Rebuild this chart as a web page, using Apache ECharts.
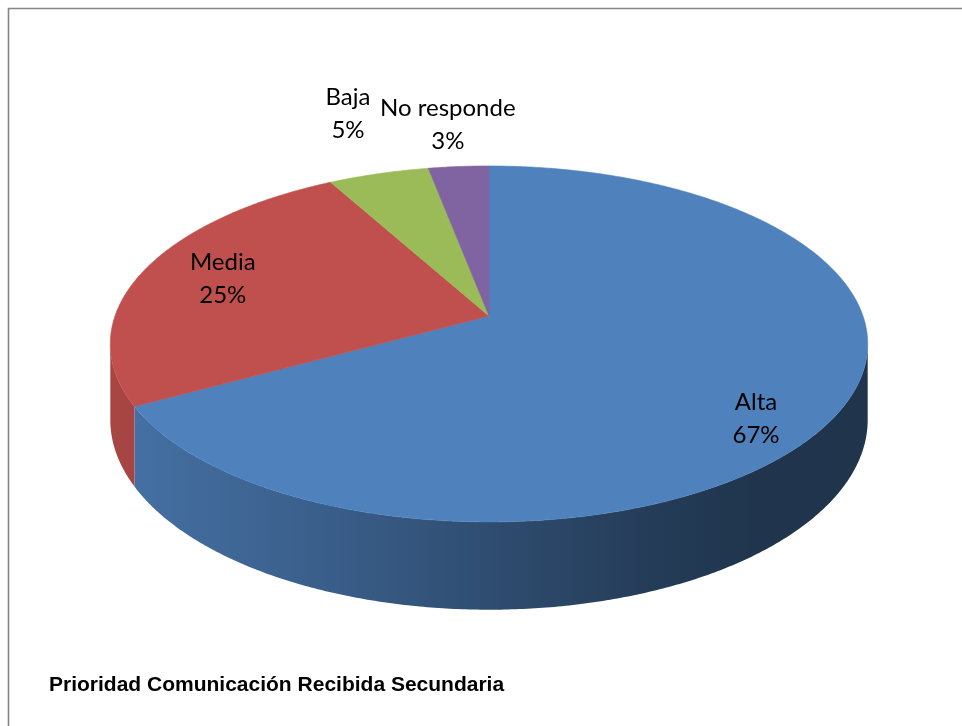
<!DOCTYPE html>
<html><head><meta charset="utf-8">
<script src="https://cdn.jsdelivr.net/npm/echarts@6/dist/echarts.min.js"></script>
<style>html,body{margin:0;padding:0;background:#fff}#c{width:962px;height:726px}</style>
</head><body><div id="c"></div>
<script>
// ---- data ----
const categories = ['Alta', 'Media', 'Baja', 'No responde'];
const values = [67, 25, 5, 3];
const colors = ['#4F81BD', '#C0504D', '#9BBB59', '#8064A2'];
const titleText = 'Prioridad Comunicación Recibida Secundaria';

// ---- layout (pseudo-3D projection) ----
const CX = 489, CY = 316, A = 374, B = 173.6, K = 0.157, DEPTH = 74;
const labelR = [0.848, 0.77, 1.497, 1.341];
const labelDA = [9.0, 0.7, 1.85, -0.3];
const VIS0 = Math.acos(-K) * 180 / Math.PI, VIS1 = 360 - VIS0;

function proj(phi, rho) {
  const p = phi * Math.PI / 180, u = rho * Math.sin(p), v = rho * Math.cos(p), w = 1 + K * v;
  return [CX + A * u / w, CY - B * v / w];
}
function projBottom(phi) {
  const p = phi * Math.PI / 180, u = Math.sin(p), v = Math.cos(p), w = 1 + K * v;
  return [CX + A * u / w, CY - B * v / w + DEPTH / w];
}
function shade(hex, f) {
  const n = parseInt(hex.slice(1), 16);
  const r = Math.round(((n >> 16) & 255) * f), g = Math.round(((n >> 8) & 255) * f), b = Math.round((n & 255) * f);
  return 'rgb(' + r + ',' + g + ',' + b + ')';
}
const total = values.reduce((s, v) => s + v, 0);
function sliceAngles(idx, api) {
  let before = 0;
  for (let i = 0; i < idx; i++) before += values[i];
  const v = api.value(0);
  return [before / total * 360, (before + v) / total * 360, v];
}

const chart = echarts.init(document.getElementById('c'), null, {renderer: 'canvas'});
const seriesData = values.map((v, i) => ({name: categories[i], value: v}));

chart.setOption({
  animation: false,
  backgroundColor: '#ffffff',
  graphic: [
    {type: 'rect', shape: {x: 8.5, y: 8.5, width: 1200, height: 1200}, style: {fill: null, stroke: '#858585', lineWidth: 1.6}, z: 0},
    {type: 'text', x: 49, y: 685, style: {text: titleText, font: 'bold 21px "Liberation Sans", Arial, sans-serif', fill: '#000', verticalAlign: 'middle'}}
  ],
  series: [
    {
      type: 'custom', coordinateSystem: 'none', z: 1, data: seriesData,
      renderItem: function (params, api) {
        const idx = params.dataIndex;
        const ang = sliceAngles(idx, api);
        const s = Math.max(ang[0], VIS0), e = Math.min(ang[1], VIS1);
        if (e <= s) return null;
        const pts = [];
        for (let a = s; a < e; a += 0.5) pts.push(proj(a, 1));
        pts.push(proj(e, 1));
        const bot = [];
        for (let a = s; a < e; a += 0.5) bot.push(projBottom(a));
        bot.push(projBottom(e));
        bot.reverse();
        const c = colors[idx];
        return {
          type: 'polygon', shape: {points: pts.concat(bot)},
          style: {
            fill: {type: 'linear', x: 109, y: 0, x2: 870, y2: 0, global: true, colorStops: [
              {offset: 0, color: shade(c, 0.88)},
              {offset: 0.3, color: shade(c, 0.72)},
              {offset: 0.5, color: shade(c, 0.6)},
              {offset: 0.7, color: shade(c, 0.47)},
              {offset: 0.85, color: shade(c, 0.41)},
              {offset: 1, color: shade(c, 0.4)}
            ]},
            stroke: null
          }
        };
      }
    },
    {
      type: 'custom', coordinateSystem: 'none', z: 2, data: seriesData,
      renderItem: function (params, api) {
        const idx = params.dataIndex;
        const ang = sliceAngles(idx, api);
        const pts = [proj(0, 0)];
        for (let a = ang[0]; a < ang[1]; a += 0.5) pts.push(proj(a, 1));
        pts.push(proj(ang[1], 1));
        const mid = (ang[0] + ang[1]) / 2 + labelDA[idx];
        const lp = proj(mid, labelR[idx]);
        const pct = Math.round(ang[2] / total * 100) + '%';
        return {
          type: 'group',
          children: [
            {type: 'polygon', shape: {points: pts}, style: {fill: colors[idx], stroke: colors[idx], lineWidth: 0.6}},
            {type: 'text', z2: 10, x: lp[0], y: lp[1], style: {
              text: categories[idx] + '\n' + pct, fill: '#000', align: 'center', verticalAlign: 'middle',
              font: '24px Lato, "Open Sans", sans-serif', lineHeight: 33
            }}
          ]
        };
      }
    }
  ]
});
</script>
</body></html>
